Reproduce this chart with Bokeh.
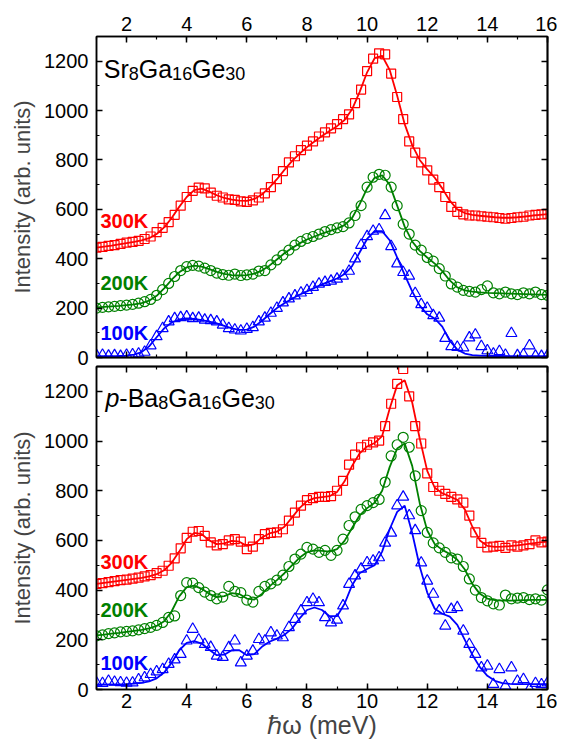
from bokeh.plotting import figure
from bokeh.layouts import column
from bokeh.models import LinearAxis, SingleIntervalTicker, FixedTicker, Range1d, Label
from bokeh.embed import file_html
from bokeh.resources import INLINE

# ---------------- data ----------------
energy = [1.0, 1.2, 1.4, 1.6, 1.8, 2.0, 2.2, 2.4, 2.6, 2.8, 3.0, 3.2, 3.4, 3.6, 3.8,
          4.0, 4.2, 4.4, 4.6, 4.8, 5.0, 5.2, 5.4, 5.6, 5.8, 6.0, 6.2, 6.4, 6.6, 6.8,
          7.0, 7.2, 7.4, 7.6, 7.8, 8.0, 8.2, 8.4, 8.6, 8.8, 9.0, 9.2, 9.4, 9.6, 9.8,
          10.0, 10.2, 10.4, 10.6, 10.8, 11.0, 11.2, 11.4, 11.6, 11.8, 12.0, 12.2, 12.4, 12.6, 12.8,
          13.0, 13.2, 13.4, 13.6, 13.8, 14.0, 14.2, 14.4, 14.6, 14.8, 15.0, 15.2, 15.4, 15.6, 15.8, 16.0]

fit_energy = [1.0, 1.25, 1.5, 1.75, 2.0, 2.25, 2.5, 2.75, 3.0, 3.25, 3.5, 3.75, 4.0, 4.25, 4.5, 4.75,
              5.0, 5.25, 5.5, 5.75, 6.0, 6.25, 6.5, 6.75, 7.0, 7.25, 7.5, 7.75, 8.0, 8.25, 8.5, 8.75,
              9.0, 9.25, 9.5, 9.75, 10.0, 10.25, 10.5, 10.75, 11.0, 11.25, 11.5, 11.75, 12.0, 12.25, 12.5, 12.75,
              13.0, 13.25, 13.5, 13.75, 14.0, 14.25, 14.5, 14.75, 15.0, 15.25, 15.5, 15.75, 16.0]

# Sr8Ga16Ge30 (top panel)
sr_300K = [445, 448, 452, 455, 460, 465, 468, 472, 480, 490, 508, 525, 548, 578, 615,
           650, 675, 688, 685, 668, 655, 648, 640, 638, 632, 630, 636, 648, 665, 690,
           722, 755, 790, 815, 840, 858, 875, 895, 912, 928, 945, 965, 985, 1030, 1085,
           1160, 1210, 1232, 1228, 1150, 1055, 965, 875, 830, 790, 758, 720, 690, 650, 610,
           590, 580, 575, 575, 572, 570, 568, 565, 562, 565, 568, 570, 575, 578, 580, 582]
sr_200K = [200, 203, 205, 207, 210, 212, 215, 220, 226, 235, 252, 275, 300, 328, 352,
           368, 373, 370, 362, 352, 342, 336, 333, 338, 332, 335, 338, 350, 352, 375,
           395, 415, 435, 455, 470, 482, 490, 500, 510, 518, 525, 530, 545, 575, 615,
           690, 730, 742, 738, 690, 615, 540, 500, 455, 435, 405, 390, 360, 330, 298,
           285, 272, 268, 265, 275, 290, 262, 258, 265, 258, 255, 262, 258, 265, 255, 252]
sr_100K = [8, 10, 6, 8, 5, 10, 12, 15, 22, 48, 85, 118, 145, 158, 162,
           165, 158, 160, 152, 150, 145, 132, 118, 112, 108, 115, 122, 145, 160, 180,
           200, 222, 238, 250, 262, 272, 285, 298, 305, 310, 318, 330, 350, 400, 455,
           490, 512, 518, 575, 450, 380, 345, 330, 260, 215, 200, 170, 160, 78, 45,
           42, 40, 80, 92, 45, 28, 15, 25, 10, 98, 8, 12, 48, 6, 5, 8]

sr_300K_fit = [445, 449, 453, 458, 463, 468, 474, 483, 500, 527, 565, 610, 650, 678, 684, 672,
               657, 646, 639, 635, 634, 642, 660, 688, 722, 760, 795, 825, 852, 875, 897, 917,
               937, 962, 1005, 1075, 1155, 1212, 1222, 1165, 1060, 945, 860, 800, 762, 728, 685, 635,
               600, 585, 578, 574, 571, 568, 566, 566, 568, 571, 575, 578, 581]
sr_200K_fit = [203, 205, 207, 209, 212, 215, 220, 230, 250, 280, 315, 345, 365, 372, 368, 358,
               347, 339, 334, 332, 334, 340, 352, 372, 397, 422, 443, 462, 478, 490, 502, 512,
               522, 536, 565, 620, 685, 728, 738, 700, 615, 530, 470, 432, 405, 380, 350, 312,
               284, 272, 267, 264, 262, 261, 260, 259, 258, 257, 256, 255, 254]
sr_100K_fit = [5, 5, 5, 6, 8, 12, 22, 45, 82, 118, 142, 154, 158, 156, 151, 145,
               138, 128, 118, 112, 113, 125, 148, 175, 200, 220, 238, 254, 268, 282, 296, 308,
               320, 338, 370, 425, 480, 512, 512, 475, 405, 335, 268, 210, 175, 158, 125, 68,
               32, 16, 10, 8, 7, 6, 6, 5, 5, 5, 5, 5, 5]

# p-Ba8Ga16Ge30 (bottom panel)
ba_300K = [425, 428, 432, 436, 440, 442, 446, 450, 455, 460, 468, 478, 498, 528, 568,
           610, 635, 638, 618, 592, 580, 585, 600, 605, 595, 565, 575, 605, 625, 630,
           632, 645, 680, 712, 740, 762, 770, 775, 775, 778, 800, 840, 905, 945, 975,
           985, 995, 1002, 1060, 1150, 1230, 1290, 1180, 1060, 990, 870, 815, 800, 787, 775,
           765, 752, 700, 632, 590, 572, 575, 578, 570, 580, 575, 580, 585, 600, 592, 595]
ba_200K = [216, 220, 225, 228, 232, 234, 236, 240, 245, 250, 258, 270, 290, 296, 378,
           430, 428, 410, 392, 378, 365, 372, 415, 395, 390, 360, 352, 395, 415, 425,
           440, 460, 495, 525, 545, 572, 565, 552, 560, 540, 560, 605, 660, 695, 725,
           740, 752, 765, 835, 940, 985, 1015, 975, 860, 720, 632, 590, 570, 552, 530,
           525, 495, 445, 400, 370, 357, 345, 340, 380, 365, 368, 370, 362, 365, 360, 401]
ba_100K = [27, 25, 34, 30, 28, 26, 27, 40, 48, 61, 72, 81, 102, 120, 142,
           196, 243, 200, 182, 170, 135, 130, 169, 196, 108, 135, 155, 202, 196, 229,
           216, 209, 250, 283, 317, 350, 364, 350, 290, 269, 280, 337, 424, 458, 485,
           511, 518, 531, 590, 630, 740, 775, 700, 640, 510, 437, 384, 317, 256, 323,
           330, 236, 182, 142, 88, 95, 21, 81, 14, 88, 34, 41, 1, 25, 20, 27]

ba_300K_fit = [425, 429, 433, 437, 441, 445, 449, 455, 464, 480, 510, 555, 605, 630, 625, 600,
               585, 588, 598, 595, 578, 585, 612, 628, 635, 655, 692, 730, 758, 770, 774, 778,
               795, 838, 900, 950, 978, 992, 1020, 1130, 1225, 1245, 1155, 1010, 880, 812, 790, 777,
               763, 725, 655, 600, 578, 574, 575, 577, 580, 584, 588, 592, 595]
ba_200K_fit = [218, 221, 225, 228, 232, 236, 240, 246, 256, 275, 315, 375, 412, 418, 405, 385,
               372, 376, 388, 384, 366, 362, 385, 415, 440, 468, 500, 530, 552, 560, 558, 555,
               565, 598, 650, 700, 730, 752, 800, 895, 970, 990, 900, 750, 640, 585, 562, 545,
               522, 483, 425, 385, 366, 360, 358, 358, 359, 360, 361, 361, 361]
ba_100K_fit = [20, 20, 20, 21, 22, 24, 27, 33, 45, 68, 108, 158, 188, 195, 185, 160,
               138, 140, 158, 158, 138, 142, 172, 192, 205, 220, 245, 285, 320, 330, 320, 295,
               295, 345, 420, 468, 485, 500, 555, 645, 715, 740, 630, 495, 390, 325, 305, 293,
               260, 200, 140, 90, 55, 35, 26, 23, 22, 22, 22, 22, 22]

temp_labels = ["300K", "200K", "100K"]
y_axis_title = "Intensity (arb. units)"
x_axis_title = "\u210f\u03c9 (meV)"

# axis tick positions
x_major = [2, 4, 6, 8, 10, 12, 14, 16]
x_minor = [1, 3, 5, 7, 9, 11, 13, 15]
y_major = [0, 200, 400, 600, 800, 1000, 1200]
y_minor = [100, 300, 500, 700, 900, 1100, 1300]

RED, GREEN, BLUE = "#ff0000", "#008000", "#0000ff"
FONT = "Liberation Sans"


def px_to_x(px):
    return 1 + (px - 96) / 30.1


def style_axis(ax):
    ax.axis_line_width = 1.5
    ax.major_tick_in = 6
    ax.major_tick_out = 0
    ax.minor_tick_in = 3
    ax.minor_tick_out = 0
    ax.major_tick_line_width = 1.5
    ax.minor_tick_line_width = 1.2


def labeled_axis(p, loc, interval, standoff, title=None, title_size="22px", title_standoff=6):
    ax = LinearAxis(ticker=SingleIntervalTicker(interval=interval, num_minor_ticks=2))
    style_axis(ax)
    ax.major_label_text_font = FONT
    ax.major_label_text_font_size = "20px"
    ax.major_label_text_color = "black"
    ax.major_label_standoff = standoff
    if title:
        ax.axis_label = title
        ax.axis_label_text_font = FONT
        ax.axis_label_text_font_size = title_size
        ax.axis_label_text_font_style = "normal"
        ax.axis_label_standoff = title_standoff
    p.add_layout(ax, loc)


def tick_only_axis(p, loc, majors, minors):
    # ticks only (no labels): long ticks at major positions, short at minor positions
    for ticks, length, lw in ((majors, 6, 1.5), (minors, 3, 1.2)):
        ax = LinearAxis(ticker=FixedTicker(ticks=[], minor_ticks=ticks))
        style_axis(ax)
        ax.minor_tick_in = length
        ax.minor_tick_line_width = lw
        ax.major_label_standoff = 0
        p.add_layout(ax, loc)


def make_fig(height, top_border, bottom_border, label_top):
    p = figure(width=557, height=height, x_range=Range1d(1, 16), y_range=Range1d(0, 1300),
               output_backend="svg", toolbar_location=None,
               x_axis_location=None, y_axis_location=None,
               min_border_left=96, min_border_right=10,
               min_border_top=top_border, min_border_bottom=bottom_border)
    p.grid.visible = False
    p.outline_line_color = "black"
    p.outline_line_width = 1.5
    labeled_axis(p, "left", 200, 8, y_axis_title)
    tick_only_axis(p, "right", y_major, y_minor)
    if label_top:
        labeled_axis(p, "above", 2, 6)
        tick_only_axis(p, "below", x_major, x_minor)
    else:
        tick_only_axis(p, "above", x_major, x_minor)
        labeled_axis(p, "below", 2, 4, x_axis_title, "25px", 0)
    return p


def add_series(p, x, y, fx, fy, color, marker, size):
    p.line(fx, fy, line_color=color, line_width=1.8)
    p.scatter(x, y, marker=marker, size=size, fill_color=None, line_color=color, line_width=1.2)


def add_text(p, x, y, text, size, style="normal", color="black", baseline="alphabetic"):
    p.add_layout(Label(x=x, y=y, text=text, text_font=FONT, text_font_size=size,
                       text_font_style=style, text_color=color, text_baseline=baseline,
                       text_align="left"))


# ---------- top panel ----------
top = make_fig(365, 36, 8, True)
add_series(top, energy, sr_300K, fit_energy, sr_300K_fit, RED, "square", 9)
add_series(top, energy, sr_200K, fit_energy, sr_200K_fit, GREEN, "circle", 10)
add_series(top, energy, sr_100K, fit_energy, sr_100K_fit, BLUE, "triangle", 11)

for txt, col, yv in zip(temp_labels, [RED, GREEN, BLUE], [553, 300, 99]):
    add_text(top, px_to_x(100), yv, txt, "20px", "bold", col, "middle")

# Sr8Ga16Ge30
add_text(top, px_to_x(103.3), 1167, "Sr", "25px")
add_text(top, px_to_x(128.3), 1150, "8", "18px")
add_text(top, px_to_x(138.3), 1167, "Ga", "25px")
add_text(top, px_to_x(171.7), 1150, "16", "18px")
add_text(top, px_to_x(191.7), 1167, "Ge", "25px")
add_text(top, px_to_x(225.0), 1150, "30", "18px")

# ---------- bottom panel ----------
bot = make_fig(381, 1, 57, False)
add_series(bot, energy, ba_300K, fit_energy, ba_300K_fit, RED, "square", 9)
add_series(bot, energy, ba_200K, fit_energy, ba_200K_fit, GREEN, "circle", 10)
add_series(bot, energy, ba_100K, fit_energy, ba_100K_fit, BLUE, "triangle", 11)

for txt, col, yv in zip(temp_labels, [RED, GREEN, BLUE], [515, 318, 105]):
    add_text(bot, px_to_x(100), yv, txt, "20px", "bold", col, "middle")

# p-Ba8Ga16Ge30
add_text(bot, px_to_x(105.0), 1174, "p", "25px", "italic")
add_text(bot, px_to_x(118.9), 1174, "-Ba", "25px")
add_text(bot, px_to_x(157.8), 1155, "8", "18px")
add_text(bot, px_to_x(167.8), 1174, "Ga", "25px")
add_text(bot, px_to_x(201.1), 1155, "16", "18px")
add_text(bot, px_to_x(221.1), 1174, "Ge", "25px")
add_text(bot, px_to_x(254.5), 1155, "30", "18px")

layout = column(top, bot, spacing=0)
open("out.html", "w").write(file_html(layout, INLINE))
